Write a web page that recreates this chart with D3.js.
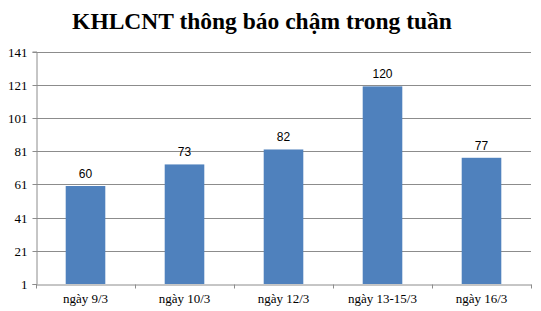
<!DOCTYPE html>
<html><head><meta charset="utf-8">
<script src="https://cdn.jsdelivr.net/npm/d3@7"></script>
<style>body{margin:0;background:#fff}svg{display:block}</style>
</head><body>
<svg id="c" width="541" height="311"></svg>
<script>
const categories = ["ngày 9/3","ngày 10/3","ngày 12/3","ngày 13-15/3","ngày 16/3"];
const values = [60,73,82,120,77];
const yTicks = [1,21,41,61,81,101,121,141];
const title = "KHLCNT thông báo chậm trong tuần";

const svg = d3.select("#c");
const m = {l:36, r:10, t:51.5, b:27};
const W = 541, H = 311;
const x = d3.scaleBand().domain(categories).range([m.l, W-m.r]).paddingInner(0.6).paddingOuter(0.3);
const y = d3.scaleLinear().domain([1,141]).range([H-m.b, m.t]);

svg.append("text").attr("x",262).attr("y",29).attr("text-anchor","middle")
  .attr("font-family","Liberation Serif").attr("font-weight","bold").attr("font-size",23.5)
  .text(title);

// gridlines
svg.append("g").selectAll("line").data(yTicks.slice(1)).join("line")
  .attr("x1",m.l).attr("x2",W-m.r).attr("y1",d=>Math.round(y(d))+0.5).attr("y2",d=>Math.round(y(d))+0.5)
  .attr("stroke","#8c8c8c").attr("stroke-width",1);

// y axis
const ya = svg.append("g").attr("transform",`translate(${m.l+0.5},0)`)
  .call(d3.axisLeft(y).tickValues(yTicks).tickSize(4).tickPadding(5).tickFormat(d3.format("d")));
ya.select(".domain").attr("stroke","#8c8c8c");
ya.selectAll(".tick line").attr("stroke","#8c8c8c");
ya.selectAll(".tick text").attr("font-family","Liberation Serif").attr("font-size",13).attr("fill","#000");
ya.selectAll(".tick").attr("transform",d=>`translate(0,${Math.round(y(d))+0.5})`);

// bars
svg.append("g").selectAll("rect").data(values).join("rect")
  .attr("x",(d,i)=>x(categories[i])).attr("width",x.bandwidth())
  .attr("y",d=>y(d)).attr("height",d=>y(1)-y(d)).attr("fill","#4f81bd");

// x axis
const xa = svg.append("g").attr("transform",`translate(0,${Math.round(y(1))+0.5})`)
  .call(d3.axisBottom(x).tickSize(0).tickPadding(9));
xa.select(".domain").attr("stroke","#8c8c8c");
xa.selectAll(".tick text").attr("font-family","Liberation Serif").attr("font-size",13).attr("fill","#000");
const edges = d3.range(categories.length+1).map(i=>m.l + i*(W-m.r-m.l)/categories.length);
xa.selectAll(".edge").data(edges).join("line").attr("class","edge")
  .attr("x1",d=>Math.round(d)+0.5).attr("x2",d=>Math.round(d)+0.5).attr("y1",0).attr("y2",4).attr("stroke","#8c8c8c");

// value labels
svg.append("g").selectAll("text").data(values).join("text")
  .attr("x",(d,i)=>x(categories[i])+x.bandwidth()/2).attr("y",d=>y(d)-8)
  .attr("text-anchor","middle").attr("font-family","Liberation Sans").attr("font-size",12).attr("fill","#000")
  .text(d=>d);
</script>
</body></html>
